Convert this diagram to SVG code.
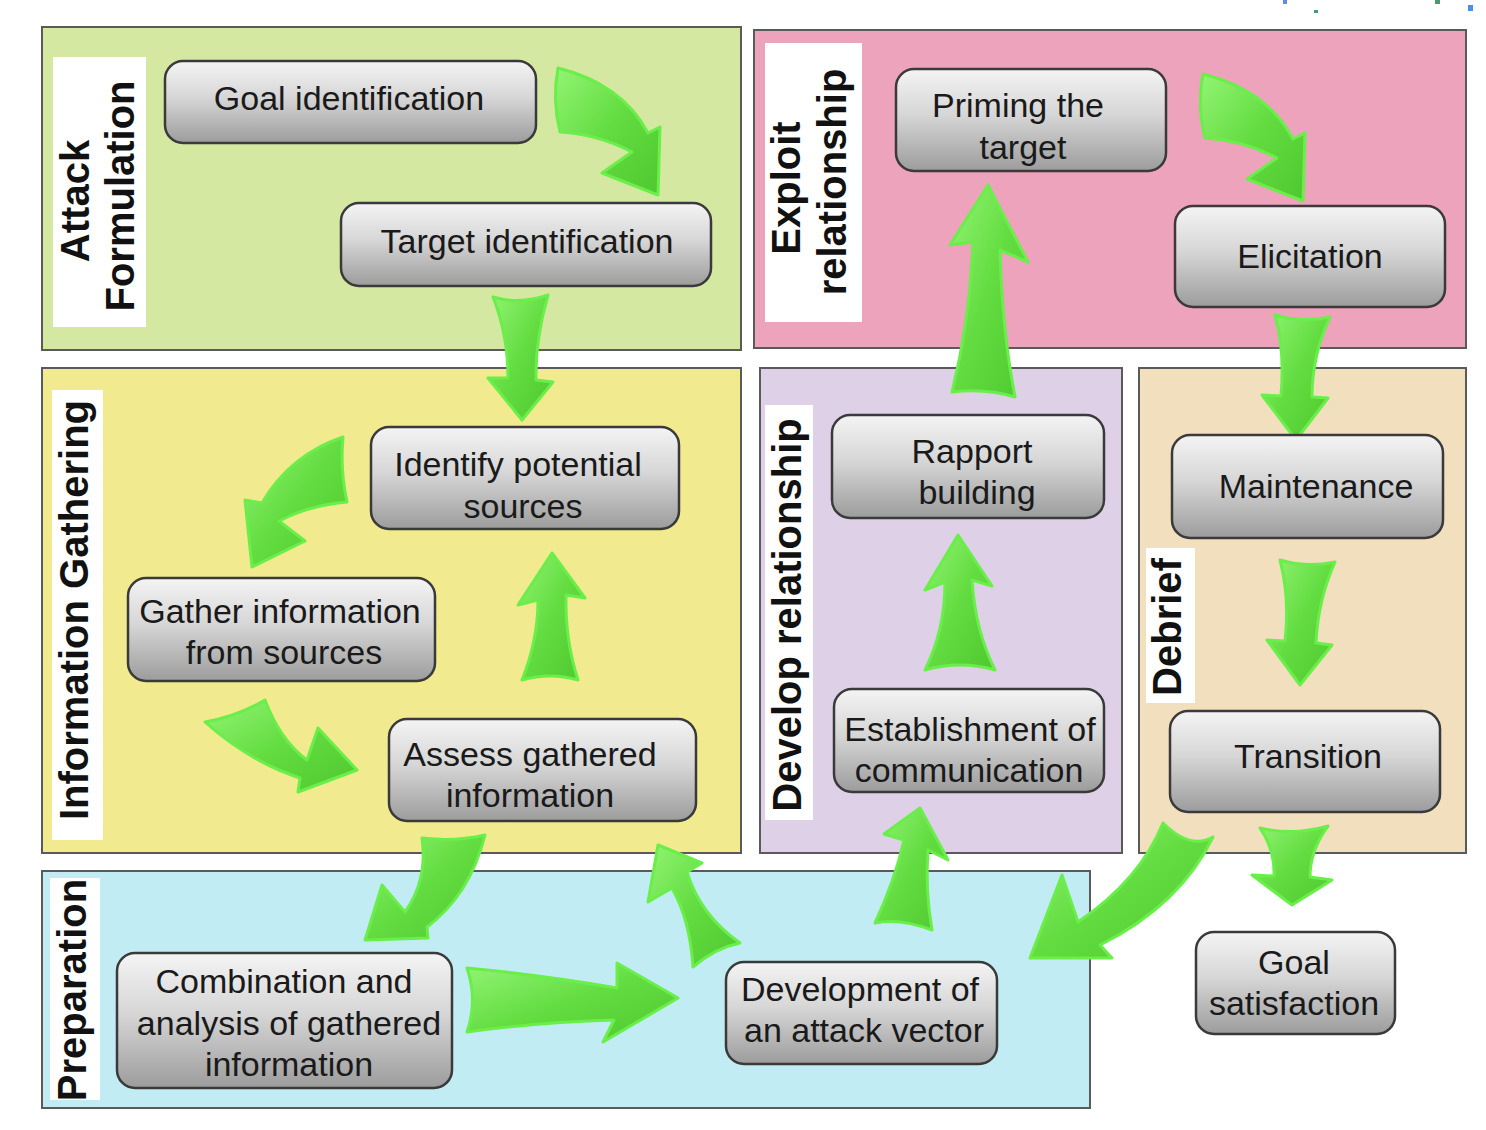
<svg xmlns="http://www.w3.org/2000/svg" width="1486" height="1130" viewBox="0 0 1486 1130">
<defs>
<linearGradient id="ng" x1="0" y1="0" x2="0" y2="1">
<stop offset="0" stop-color="#f4f4f4"/>
<stop offset="0.45" stop-color="#d6d6d6"/>
<stop offset="1" stop-color="#9c9c9c"/>
</linearGradient>
<linearGradient id="ag" x1="0" y1="0" x2="1" y2="1">
<stop offset="0" stop-color="#93f474"/>
<stop offset="0.5" stop-color="#62dc40"/>
<stop offset="1" stop-color="#4ec82f"/>
</linearGradient>
<style>
.panel{stroke:#5a5a5a;stroke-width:2}
.lbl{fill:#ffffff}
.lt{font-family:"Liberation Sans",Arial,sans-serif;font-weight:bold;font-size:40px;fill:#111;text-anchor:middle}
.node rect{fill:url(#ng);stroke:#3a3a3a;stroke-width:2.5}
.nt{font-family:"Liberation Sans",Arial,sans-serif;font-size:34px;fill:#1a1a1a;text-anchor:middle}
.arr{fill:url(#ag);stroke:#6aee4a;stroke-width:3;stroke-linejoin:round}
</style>
</defs>
<rect width="1486" height="1130" fill="#ffffff"/>
<g id="dots">
<rect x="1283" y="0" width="4" height="4" fill="#5a8fe8"/>
<rect x="1314" y="10" width="4" height="3" fill="#4a9a70"/>
<rect x="1435" y="0" width="5" height="4" fill="#4a9a70"/>
<rect x="1468" y="5" width="5" height="6" fill="#4a8ee8"/>
</g>
<g id="panel-attack">
<rect class="panel" x="42" y="27" width="699" height="323" fill="#d5e8a1"/>
<rect class="lbl" x="53" y="57" width="93" height="270"/>
<text class="lt" transform="translate(89,201) rotate(-90)">Attack</text>
<text class="lt" transform="translate(134,196) rotate(-90)">Formulation</text>
</g>
<g id="panel-exploit">
<rect class="panel" x="754" y="30" width="712" height="318" fill="#eda3bb"/>
<rect class="lbl" x="765" y="43" width="97" height="279"/>
<text class="lt" transform="translate(800,188) rotate(-90)">Exploit</text>
<text class="lt" transform="translate(846,182) rotate(-90)">relationship</text>
</g>
<g id="panel-info">
<rect class="panel" x="42" y="368" width="699" height="485" fill="#f2ea8f"/>
<rect class="lbl" x="52" y="390" width="51" height="450"/>
<text class="lt" transform="translate(88,610) rotate(-90)">Information Gathering</text>
</g>
<g id="panel-develop">
<rect class="panel" x="760" y="368" width="362" height="485" fill="#ded0e6"/>
<rect class="lbl" x="765" y="405" width="48" height="415"/>
<text class="lt" transform="translate(801,615) rotate(-90)">Develop relationship</text>
</g>
<g id="panel-debrief">
<rect class="panel" x="1139" y="368" width="327" height="485" fill="#f2dfbe"/>
<rect class="lbl" x="1146" y="548" width="49" height="155"/>
<text class="lt" transform="translate(1181,627) rotate(-90)">Debrief</text>
</g>
<g id="panel-prep">
<rect class="panel" x="42" y="871" width="1048" height="237" fill="#c2ecf3"/>
<rect class="lbl" x="50" y="878" width="50" height="222"/>
<text class="lt" transform="translate(86,990) rotate(-90)">Preparation</text>
</g>
<g id="connectors">
<path class="arr" d="M558,68 Q622,84 648,133 L660,127 L658,195 L602,173 L632,152 Q598,134 560,132 Q552,100 558,68 Z"/>
<path class="arr" d="M1203,74 Q1267,90 1293,139 L1305,133 L1303,201 L1247,179 L1277,158 Q1243,140 1205,138 Q1197,106 1203,74 Z"/>
<path class="arr" d="M493,297 Q520,305 548,295 Q535,340 536,380 L553,382 L522,420 L488,378 L508,378 Q508,335 493,297 Z"/>
<path class="arr" d="M343,437 Q290,455 262,503 L245,500 L252,567 L305,541 L279,521 Q310,505 347,502 Q340,470 343,437 Z"/>
<path class="arr" d="M265,700 Q280,740 307,760 L318,728 L357,770 L298,792 L300,778 Q250,762 205,722 Q238,716 265,700 Z"/>
<path class="arr" d="M552,553 L585,598 L566,595 Q565,640 578,680 Q550,672 522,680 Q538,640 538,600 L518,605 Z"/>
<path class="arr" d="M422,838 Q455,842 485,835 Q470,895 427,927 L428,938 L365,940 L382,885 L405,912 Q428,880 422,838 Z"/>
<path class="arr" d="M467,968 Q540,975 617,988 L617,963 L678,998 L603,1042 L614,1020 Q540,1022 467,1032 Q478,1000 467,968 Z"/>
<path class="arr" d="M658,845 L702,863 L687,872 Q700,915 740,943 Q715,948 693,967 Q690,920 672,888 L648,902 Z"/>
<path class="arr" d="M920,808 L948,860 L928,850 Q925,890 932,930 Q900,918 875,923 Q895,880 904,840 L884,834 Z"/>
<path class="arr" d="M958,535 L992,586 L972,580 Q975,630 995,670 Q960,660 925,670 Q945,630 945,582 L925,590 Z"/>
<path class="arr" d="M988,185 L1028,262 L1000,250 Q1002,330 1015,397 Q985,388 952,392 Q970,320 973,242 L950,245 Z"/>
<path class="arr" d="M1275,315 Q1302,323 1330,317 Q1312,355 1312,397 L1328,398 L1296,440 L1262,395 L1281,396 Q1285,350 1275,315 Z"/>
<path class="arr" d="M1280,560 Q1307,568 1335,562 Q1318,600 1316,643 L1332,645 L1300,685 L1267,640 L1285,641 Q1290,598 1280,560 Z"/>
<path class="arr" d="M1163,823 Q1190,850 1213,837 Q1180,905 1100,945 L1112,958 L1030,958 L1062,875 L1078,922 Q1140,880 1163,823 Z"/>
<path class="arr" d="M1260,828 Q1294,836 1328,826 Q1310,850 1310,877 L1332,880 L1292,905 L1252,875 L1274,876 Q1275,850 1260,828 Z"/>
</g>
<g id="n-goal" class="node"><rect x="165" y="61" width="371" height="82" rx="18"/><text class="nt" x="349" y="110">Goal identification</text></g>
<g id="n-target" class="node"><rect x="341" y="203" width="370" height="83" rx="18"/><text class="nt" x="527" y="253">Target identification</text></g>
<g id="n-priming" class="node"><rect x="896" y="69" width="270" height="102" rx="18"/><text class="nt" x="1018" y="117">Priming the</text><text class="nt" x="1023" y="159">target</text></g>
<g id="n-elicitation" class="node"><rect x="1175" y="206" width="270" height="101" rx="18"/><text class="nt" x="1310" y="268">Elicitation</text></g>
<g id="n-identify" class="node"><rect x="371" y="427" width="308" height="102" rx="18"/><text class="nt" x="518" y="476">Identify potential</text><text class="nt" x="523" y="518">sources</text></g>
<g id="n-gather" class="node"><rect x="128" y="578" width="307" height="103" rx="18"/><text class="nt" x="280" y="623">Gather information</text><text class="nt" x="284" y="664">from sources</text></g>
<g id="n-assess" class="node"><rect x="389" y="719" width="307" height="102" rx="18"/><text class="nt" x="530" y="766">Assess gathered</text><text class="nt" x="530" y="807">information</text></g>
<g id="n-rapport" class="node"><rect x="832" y="415" width="272" height="103" rx="18"/><text class="nt" x="972" y="463">Rapport</text><text class="nt" x="977" y="504">building</text></g>
<g id="n-establish" class="node"><rect x="834" y="689" width="270" height="103" rx="18"/><text class="nt" x="970" y="741">Establishment of</text><text class="nt" x="969" y="782">communication</text></g>
<g id="n-maintenance" class="node"><rect x="1172" y="435" width="271" height="103" rx="18"/><text class="nt" x="1316" y="498">Maintenance</text></g>
<g id="n-transition" class="node"><rect x="1170" y="711" width="270" height="101" rx="18"/><text class="nt" x="1308" y="768">Transition</text></g>
<g id="n-combination" class="node"><rect x="117" y="953" width="335" height="135" rx="18"/><text class="nt" x="284" y="993">Combination and</text><text class="nt" x="289" y="1035">analysis of gathered</text><text class="nt" x="289" y="1076">information</text></g>
<g id="n-development" class="node"><rect x="726" y="962" width="271" height="102" rx="18"/><text class="nt" x="860" y="1001">Development of</text><text class="nt" x="864" y="1042">an attack vector</text></g>
<g id="n-satisfaction" class="node"><rect x="1196" y="932" width="199" height="102" rx="18"/><text class="nt" x="1294" y="974">Goal</text><text class="nt" x="1294" y="1015">satisfaction</text></g>
</svg>
